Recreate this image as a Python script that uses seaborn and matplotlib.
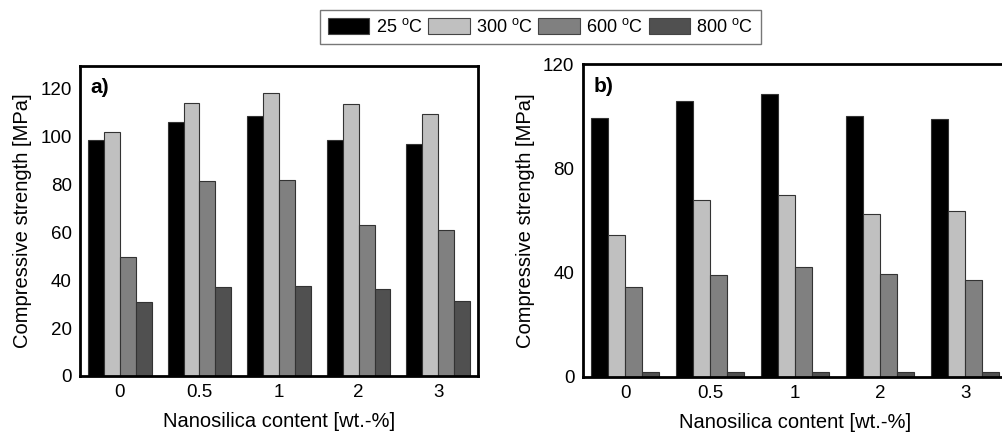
import matplotlib
matplotlib.use("Agg")
import matplotlib.pyplot as plt
import seaborn as sns
import pandas as pd
from matplotlib.patches import Patch

content = ["0", "0.5", "1", "2", "3"]
temps = ["25 $^{\\mathrm{o}}$C", "300 $^{\\mathrm{o}}$C", "600 $^{\\mathrm{o}}$C", "800 $^{\\mathrm{o}}$C"]

a_25 = [98.7, 106.0, 108.8, 98.7, 97.1]
a_300 = [101.9, 114.2, 118.2, 113.8, 109.3]
a_600 = [49.6, 81.4, 81.8, 63.3, 60.9]
a_800 = [31.0, 37.1, 37.8, 36.4, 31.3]

b_25 = [99.4, 106.0, 108.8, 100.0, 99.1]
b_300 = [54.5, 67.7, 69.9, 62.7, 63.5]
b_600 = [34.4, 39.0, 42.2, 39.4, 37.1]
b_800 = [1.9, 1.9, 1.9, 1.9, 1.9]

colors = ["#000000", "#c0c0c0", "#808080", "#505050"]

sns.set_theme(style="white")
plt.rcParams['font.family'] = ['Liberation Sans', 'DejaVu Sans']
plt.rcParams['mathtext.fontset'] = 'custom'
plt.rcParams['mathtext.rm'] = 'Liberation Sans'
plt.rcParams['text.color'] = 'black'
plt.rcParams['axes.labelcolor'] = 'black'


def make_df(series):
    rows = []
    for t, vals in zip(temps, series):
        for c, v in zip(content, vals):
            rows.append({"content": c, "temp": t, "value": v})
    return pd.DataFrame(rows)


fig = plt.figure(figsize=(10.03, 4.38), dpi=100)
ax1 = fig.add_axes([0.0798, 0.1416, 0.3968, 0.7075])
ax2 = fig.add_axes([0.581, 0.140, 0.4237, 0.713])

panels = [
    (ax1, make_df([a_25, a_300, a_600, a_800]), (0, 129.5), [0, 20, 40, 60, 80, 100, 120], "a)"),
    (ax2, make_df([b_25, b_300, b_600, b_800]), (0, 120), [0, 40, 80, 120], "b)"),
]

for ax, df, ylim, yt, lab in panels:
    sns.barplot(data=df, x="content", y="value", hue="temp", hue_order=temps,
                order=content, palette=colors, width=0.8, ax=ax,
                edgecolor="#333333", linewidth=0.8, legend=False)
    ax.set_xlim(-0.5, 4.5)
    ax.set_ylim(*ylim)
    ax.set_yticks(yt)
    ax.tick_params(axis="both", length=0, labelsize=13.5, pad=6, colors="black")
    ax.set_xlabel("Nanosilica content [wt.-%]", fontsize=14.5, color="black", labelpad=8)
    ax.set_ylabel("Compressive strength [MPa]", fontsize=14.5, color="black", labelpad=6)
    for s in ax.spines.values():
        s.set_visible(True)
        s.set_color("black")
        s.set_linewidth(2)
    ax.text(0.025, 0.96, lab, transform=ax.transAxes, fontsize=15, fontweight="bold",
            va="top", ha="left", color="black")

handles = [Patch(facecolor=c, edgecolor="#444444", linewidth=0.8, label=t)
           for c, t in zip(colors, temps)]
leg = fig.legend(handles=handles, loc="center", bbox_to_anchor=(0.539, 0.938), ncol=4,
                 fontsize=13, frameon=True, fancybox=False, handlelength=2.3,
                 handleheight=0.95, handletextpad=0.35, columnspacing=0.3,
                 borderpad=0.45, borderaxespad=0)
leg.get_frame().set_edgecolor("#555555")
leg.get_frame().set_linewidth(1.0)

fig.savefig("out.png", dpi=100)
